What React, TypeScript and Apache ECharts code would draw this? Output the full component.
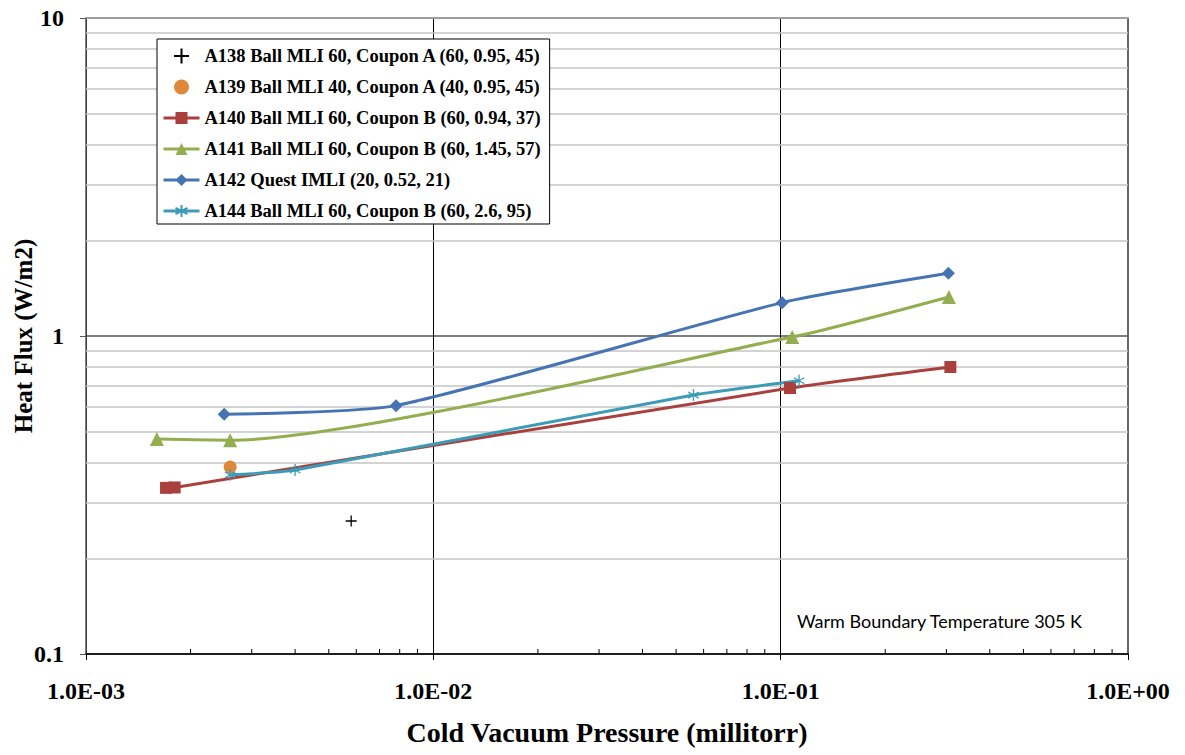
import React, { useEffect, useRef } from "react";
import * as echarts from "echarts";

// ---- data ----
const A138_X = [0.0058];
const A138_Y = [0.262];

const A139_X = [0.0026];
const A139_Y = [0.387];

const A140_X = [0.0017, 0.0018, 0.1064, 0.308];
const A140_Y = [0.333, 0.334, 0.686, 0.799];

const A141_X = [0.0016, 0.0026, 0.108, 0.305];
const A141_Y = [0.474, 0.47, 0.993, 1.327];

const A142_X = [0.0025, 0.00781, 0.101, 0.304];
const A142_Y = [0.567, 0.604, 1.273, 1.574];

const A144_X = [0.0026, 0.004, 0.0561, 0.113];
const A144_Y = [0.366, 0.379, 0.652, 0.723];

const NAMES = [
  "A138 Ball MLI 60, Coupon A (60, 0.95, 45)",
  "A139 Ball MLI 40, Coupon A (40, 0.95, 45)",
  "A140 Ball MLI 60, Coupon B (60, 0.94, 37)",
  "A141 Ball MLI 60, Coupon B (60, 1.45, 57)",
  "A142 Quest IMLI (20, 0.52, 21)",
  "A144 Ball MLI 60, Coupon B (60, 2.6, 95)",
];

const MINOR_Y = [0.2, 0.3, 0.4, 0.5, 0.6, 0.7, 0.8, 0.9, 2, 3, 4, 5, 6, 7, 8, 9];
const MINOR_X = [
  0.002, 0.003, 0.004, 0.005, 0.006, 0.007, 0.008, 0.009,
  0.02, 0.03, 0.04, 0.05, 0.06, 0.07, 0.08, 0.09,
  0.2, 0.3, 0.4, 0.5, 0.6, 0.7, 0.8, 0.9,
];

const X_TITLE = "Cold Vacuum Pressure (millitorr)";
const Y_TITLE = "Heat Flux (W/m2)";
const NOTE = "Warm Boundary Temperature 305 K";

const zip = (xs: number[], ys: number[]) => xs.map((x, i) => [x, ys[i]]);

const SERIF = "'Liberation Serif', 'Times New Roman', serif";

const PLUS = "path://M0,5L10,5M5,0L5,10";
const STAR = "path://M5,0L5,10M0.67,2.5L9.33,7.5M0.67,7.5L9.33,2.5";

export default function App() {
  const ref = useRef<HTMLDivElement>(null);

  useEffect(() => {
    document.body.style.margin = "0";
    if (!ref.current) return;
    const chart = echarts.init(ref.current, undefined, { renderer: "svg" });

    const xFmt = (v: number) => {
      const e = Math.round(Math.log10(v));
      return "1.0E" + (e < 0 ? "-" : "+") + String(Math.abs(e)).padStart(2, "0");
    };

    const RED = "#A9403E";
    const GREEN = "#93AD4F";
    const BLUE = "#4674B2";
    const CYAN = "#3C9CB6";
    const ORANGE = "#E0883A";
    const SMOOTH = 0.2;

    const option: any = {
      animation: false,
      grid: {
        left: 86,
        right: 57,
        top: 18,
        bottom: 101,
        containLabel: false,
        outerBoundsMode: "none",
      },
      legend: {
        data: NAMES,
        orient: "vertical",
        left: 157,
        top: 39,
        z: 10,
        backgroundColor: "#fff",
        borderColor: "#000",
        borderWidth: 1,
        padding: [7, 8, 3, 5],
        itemWidth: 36,
        itemHeight: 15,
        itemGap: 11,
        lineStyle: { width: 3 },
        textStyle: {
          fontFamily: SERIF,
          fontWeight: "bold",
          fontSize: 18.5,
          color: "#000",
          lineHeight: 20,
        },
      },
      xAxis: [
        {
          type: "log",
          logBase: 10,
          min: 0.001,
          max: 1,
          name: X_TITLE,
          nameLocation: "middle",
          nameGap: 64,
          nameMoveOverlap: false,
          nameTextStyle: { fontFamily: SERIF, fontWeight: "bold", fontSize: 28, color: "#000" },
          axisLine: { show: true, lineStyle: { color: "#000", width: 1.5 } },
          axisTick: { show: true, inside: false, length: 6, lineStyle: { color: "#000", width: 1 } },
          axisLabel: {
            formatter: xFmt,
            margin: 25,
            fontFamily: SERIF,
            fontWeight: "bold",
            fontSize: 24,
            color: "#000",
          },
          splitLine: { show: true, lineStyle: { color: "#000", width: 1 } },
          minorTick: { show: false },
        },
        {
          type: "log",
          logBase: 10,
          min: 0.001,
          max: 1,
          position: "top",
          axisLine: { show: true, lineStyle: { color: "#a0a0a0", width: 2 } },
          axisTick: { show: false },
          axisLabel: { show: false },
          splitLine: { show: false },
        },
      ],
      yAxis: [
        {
          type: "log",
          logBase: 10,
          min: 0.1,
          max: 10,
          name: Y_TITLE,
          nameLocation: "middle",
          nameGap: 50,
          nameMoveOverlap: false,
          nameTextStyle: { fontFamily: SERIF, fontWeight: "bold", fontSize: 25, color: "#000" },
          axisLine: { show: true, lineStyle: { color: "#555", width: 1.5 } },
          axisTick: { show: true, inside: false, length: 6, lineStyle: { color: "#555", width: 1 } },
          axisLabel: {
            formatter: (v: number) => String(+v.toPrecision(3)),
            margin: 22,
            fontFamily: SERIF,
            fontWeight: "bold",
            fontSize: 24,
            color: "#000",
          },
          splitLine: { show: true, lineStyle: { color: "#555", width: 1.5 } },
        },
        {
          type: "log",
          logBase: 10,
          min: 0.1,
          max: 10,
          position: "right",
          axisLine: { show: true, lineStyle: { color: "#666", width: 2 } },
          axisTick: { show: false },
          axisLabel: { show: false },
          splitLine: { show: false },
        },
      ],
      graphic: [
        {
          type: "text",
          left: 797,
          top: 612,
          style: { text: NOTE, font: "18px Lato, 'Liberation Sans', sans-serif", fill: "#000" },
        },
      ],
      series: [
        {
          name: "gridHelper",
          type: "line",
          data: [[0.001, 0.1]],
          showSymbol: false,
          lineStyle: { width: 0 },
          z: 1,
          silent: true,
          markLine: {
            silent: true,
            z: 1,
            symbol: "none",
            label: { show: false },
            lineStyle: { color: "#c4c4c4", width: 1.5, type: "solid" },
            data: MINOR_Y.map((v) => ({ yAxis: v })),
          },
        },
        {
          name: "minorTicks",
          type: "custom",
          silent: true,
          z: 3,
          data: MINOR_X.map((v) => [v, 0.1]),
          renderItem: (_p: any, api: any) => {
            const pt = api.coord([api.value(0), api.value(1)]);
            return {
              type: "line",
              shape: { x1: pt[0], y1: pt[1], x2: pt[0], y2: pt[1] - 5 },
              style: { stroke: "#000", lineWidth: 1 },
            };
          },
        },
        {
          name: NAMES[0],
          type: "scatter",
          data: zip(A138_X, A138_Y),
          symbol: PLUS,
          symbolSize: 11,
          symbolKeepAspect: true,
          itemStyle: { color: "none", borderColor: "#000", borderWidth: 1.3, opacity: 1 },
          z: 5,
        },
        {
          name: NAMES[1],
          type: "scatter",
          data: zip(A139_X, A139_Y),
          symbol: "circle",
          symbolSize: 13,
          itemStyle: { color: ORANGE, opacity: 1 },
          z: 5,
        },
        {
          name: NAMES[2],
          type: "line",
          data: zip(A140_X, A140_Y),
          smooth: SMOOTH,
          symbol: "rect",
          symbolSize: 12,
          color: RED,
          lineStyle: { color: RED, width: 3 },
          itemStyle: { color: RED },
          z: 5,
        },
        {
          name: NAMES[3],
          type: "line",
          data: zip(A141_X, A141_Y),
          smooth: SMOOTH,
          symbol: "triangle",
          symbolSize: 14,
          color: GREEN,
          lineStyle: { color: GREEN, width: 3 },
          itemStyle: { color: GREEN },
          z: 5,
        },
        {
          name: NAMES[4],
          type: "line",
          data: zip(A142_X, A142_Y),
          smooth: SMOOTH,
          symbol: "diamond",
          symbolSize: 13,
          color: BLUE,
          lineStyle: { color: BLUE, width: 3 },
          itemStyle: { color: BLUE },
          z: 5,
        },
        {
          name: NAMES[5],
          type: "line",
          data: zip(A144_X, A144_Y),
          smooth: SMOOTH,
          symbol: STAR,
          symbolSize: 12,
          symbolKeepAspect: true,
          color: CYAN,
          lineStyle: { color: CYAN, width: 3 },
          itemStyle: { color: CYAN, borderColor: CYAN, borderWidth: 1.3 },
          z: 5,
        },
      ],
    };

    chart.setOption(option);
    return () => chart.dispose();
  }, []);

  return <div ref={ref} style={{ width: 1185, height: 755 }} />;
}
